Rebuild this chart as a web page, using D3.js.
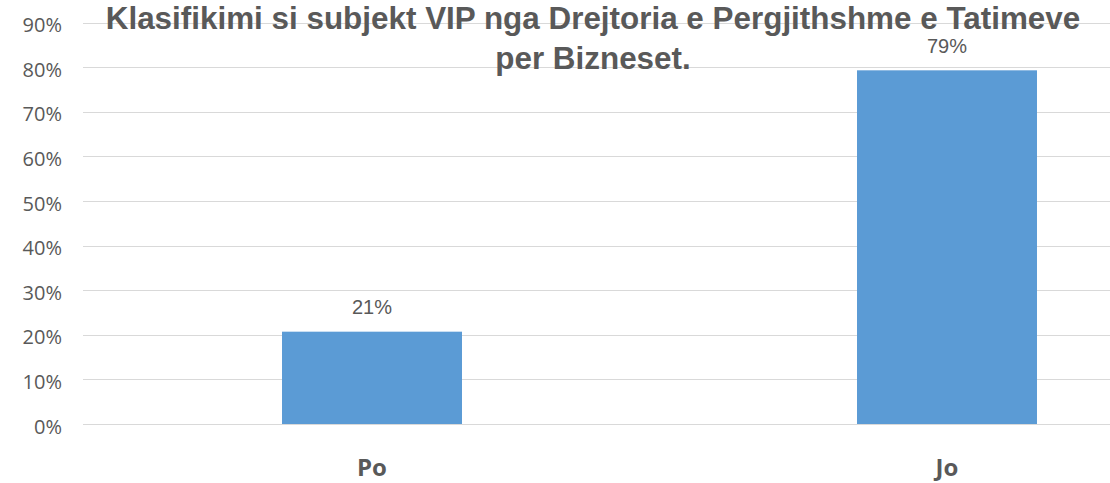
<!DOCTYPE html>
<html>
<head>
<meta charset="utf-8">
<script src="https://cdn.jsdelivr.net/npm/d3@7/dist/d3.min.js"></script>
<style>
  html, body { margin: 0; padding: 0; background: #ffffff; }
  svg { display: block; }
  text { font-family: "Open Sans", sans-serif; fill: #595959; }
</style>
</head>
<body>
<svg id="chart" width="1110" height="483"></svg>
<script>
// ---- data ----
const categories = ["Po", "Jo"];
const values = [0.207, 0.793];
const yTicks = [0, 0.1, 0.2, 0.3, 0.4, 0.5, 0.6, 0.7, 0.8, 0.9];
const titleLines = ["Klasifikimi si subjekt VIP nga Drejtoria e Pergjithshme e Tatimeve", "per Bizneset."];

// ---- layout ----
const W = 1110, H = 483;
const svg = d3.select("#chart");
const sansFont = "'Liberation Sans', Arial, sans-serif";

const x = d3.scaleBand()
  .domain(categories)
  .range([84.5, 1234.5])
  .paddingInner(0.687)
  .paddingOuter(0.3435);

const y = d3.scaleLinear()
  .domain([0, 0.9])
  .range([424, 22.6]);

const pct = d3.format(".0%");

// gridlines
const grid = svg.append("g").attr("class", "grid");
grid.selectAll("line")
  .data(yTicks)
  .join("line")
  .attr("x1", 83)
  .attr("x2", W)
  .attr("y1", d => Math.round(y(d)) + 0.5)
  .attr("y2", d => Math.round(y(d)) + 0.5)
  .attr("stroke", "#d9d9d9")
  .attr("stroke-width", 1);

// y axis labels
const yAxis = svg.append("g")
  .attr("transform", "translate(62,0)")
  .call(d3.axisLeft(y).tickValues(yTicks).tickFormat(pct).tickSize(0).tickPadding(0));
yAxis.select(".domain").remove();
yAxis.selectAll("text")
  .attr("x", 0)
  .attr("dy", "0.45em")
  .style("font-size", "20px")
  .style("font-family", "'Open Sans', sans-serif")
  .attr("fill", "#595959");

// bars
svg.append("g").selectAll("rect")
  .data(categories)
  .join("rect")
  .attr("x", d => x(d))
  .attr("width", x.bandwidth())
  .attr("y", (d, i) => y(values[i]))
  .attr("height", (d, i) => y(0) - y(values[i]))
  .attr("fill", "#5b9bd5");

// data labels
svg.append("g").selectAll("text")
  .data(categories)
  .join("text")
  .attr("x", d => x(d) + x.bandwidth() / 2)
  .attr("y", (d, i) => y(values[i]) - 17.5)
  .attr("text-anchor", "middle")
  .style("font-family", sansFont)
  .style("font-size", "20px")
  .text((d, i) => pct(Math.round(values[i] * 100) / 100));

// x axis category labels
const xAxis = svg.append("g")
  .attr("transform", "translate(0,424)")
  .call(d3.axisBottom(x).tickSize(0).tickPadding(0));
xAxis.select(".domain").remove();
xAxis.selectAll("text")
  .attr("y", 52)
  .attr("dy", 0)
  .style("font-size", "24px")
  .style("font-weight", "bold")
  .style("font-family", "'Open Sans', sans-serif")
  .attr("fill", "#595959");

// title
const title = svg.append("g").attr("class", "title");
const t1 = title.append("text")
  .attr("x", 593)
  .attr("y", 24)
  .attr("text-anchor", "middle")
  .style("font-family", sansFont)
  .style("font-size", "26px")
  .style("font-weight", "bold")
  .text(titleLines[0]);
// fit title width to the reference's line length
const len = t1.node().getComputedTextLength();
const fs = 26 * 975 / len;
t1.style("font-size", fs.toFixed(2) + "px");
// keep the title's box inside the picture
const bb = t1.node().getBBox();
if (bb.y < 0.5) t1.attr("y", 24 + (0.5 - bb.y));
title.append("text")
  .attr("x", 593)
  .attr("y", 69)
  .attr("text-anchor", "middle")
  .style("font-family", sansFont)
  .style("font-size", fs.toFixed(2) + "px")
  .style("font-weight", "bold")
  .text(titleLines[1]);
</script>
</body>
</html>
